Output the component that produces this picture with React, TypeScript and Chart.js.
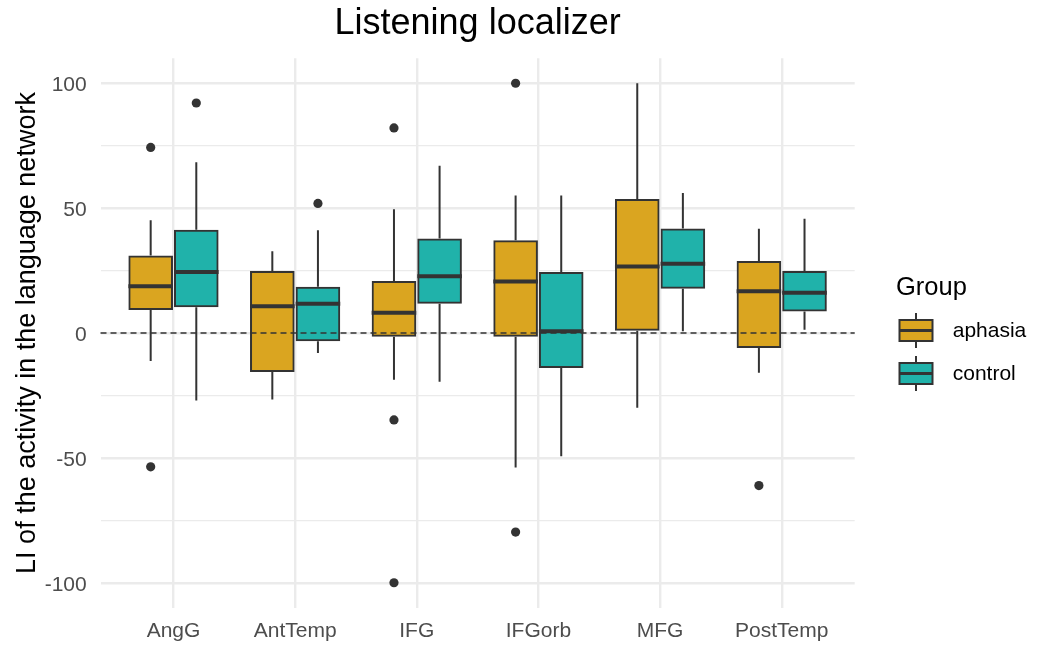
import React, { useEffect, useRef } from 'react';
import { Chart, registerables } from 'chart.js';

Chart.register(...registerables);

// Regions on the x axis
const regions = ['AngG', 'AntTemp', 'IFG', 'IFGorb', 'MFG', 'PostTemp'];
const groupNames = ['aphasia', 'control'];
const groupColors = ['#DAA520', '#20B2AA'];

// Per region: [lower whisker, Q1, median, Q3, upper whisker]
const aphasiaStats = [
  [-11.2, 9.6, 18.7, 30.6, 45.1],
  [-26.6, -15.2, 10.7, 24.4, 32.7],
  [-18.7, -1.1, 8.1, 20.4, 49.6],
  [-53.9, -1.1, 20.6, 36.7, 55.1],
  [-29.9, 1.3, 26.6, 53.3, 100],
  [-15.9, -5.6, 16.7, 28.4, 41.7],
];
const controlStats = [
  [-27.0, 10.7, 24.4, 40.9, 68.4],
  [-8.0, -2.9, 11.7, 18.1, 41.1],
  [-19.5, 12.1, 22.7, 37.4, 67.0],
  [-49.4, -13.6, 0.7, 24.0, 55.1],
  [0.7, 18.1, 27.7, 41.4, 56.1],
  [1.3, 9.0, 16.1, 24.4, 45.7],
];

// Points beyond the whiskers, per region
const aphasiaOutliers = [[74.3, -53.6], [], [82.1, -34.8, -100], [100, -79.7], [], [-61.1]];
const controlOutliers = [[92.1], [51.9], [], [], [], []];

const yTicks = [-100, -75, -50, -25, 0, 25, 50, 75, 100];
const yLabelTicks = [-100, -50, 0, 50, 100];

const DODGE = 0.1875;
const BOX_WIDTH = 0.35;
const BOX_PX = 42.6;
const INK = '#333333';
const GRID = '#EBEBEB';
const FONT = "'Liberation Sans', Arial, sans-serif";

const groups = [
  { name: groupNames[0], color: groupColors[0], stats: aphasiaStats, outliers: aphasiaOutliers, offset: -DODGE },
  { name: groupNames[1], color: groupColors[1], stats: controlStats, outliers: controlOutliers, offset: DODGE },
];

// Whiskers, medians and the dashed zero reference line
const boxDetails = {
  id: 'boxDetails',
  afterDatasetsDraw(chart: any) {
    const { ctx, chartArea } = chart;
    const x = chart.scales.x;
    const y = chart.scales.y;
    ctx.save();
    ctx.strokeStyle = INK;
    ctx.lineCap = 'butt';
    groups.forEach((g) => {
      g.stats.forEach((s, i) => {
        const c = i + 1 + g.offset;
        const cx = x.getPixelForValue(c);
        const left = x.getPixelForValue(c - BOX_WIDTH / 2);
        const right = x.getPixelForValue(c + BOX_WIDTH / 2);
        ctx.lineWidth = 2;
        ctx.beginPath();
        ctx.moveTo(cx, y.getPixelForValue(s[3]) - 1);
        ctx.lineTo(cx, y.getPixelForValue(s[4]));
        ctx.moveTo(cx, y.getPixelForValue(s[1]) + 1);
        ctx.lineTo(cx, y.getPixelForValue(s[0]));
        ctx.stroke();
        const ym = y.getPixelForValue(s[2]);
        ctx.lineWidth = 4;
        ctx.beginPath();
        ctx.moveTo(left - 1, ym);
        ctx.lineTo(right + 1, ym);
        ctx.stroke();
      });
    });
    const y0 = y.getPixelForValue(0);
    ctx.lineWidth = 1.3;
    ctx.setLineDash([6, 4]);
    ctx.beginPath();
    ctx.moveTo(chartArea.left, y0);
    ctx.lineTo(chartArea.right, y0);
    ctx.stroke();
    ctx.restore();
  },
};

// Group legend on the right
const groupLegend = {
  id: 'groupLegend',
  afterDraw(chart: any) {
    const { ctx } = chart;
    ctx.save();
    ctx.fillStyle = '#000';
    ctx.font = `25.5px ${FONT}`;
    ctx.textAlign = 'left';
    ctx.textBaseline = 'alphabetic';
    ctx.fillText('Group', 896, 295);
    groups.forEach((g, k) => {
      const keyL = 899.5;
      const keyW = 33;
      const boxH = 21;
      const top = 320 + k * 43;
      const cx = keyL + keyW / 2;
      ctx.strokeStyle = INK;
      ctx.lineWidth = 2;
      ctx.beginPath();
      ctx.moveTo(cx, top - 7);
      ctx.lineTo(cx, top);
      ctx.moveTo(cx, top + boxH);
      ctx.lineTo(cx, top + boxH + 7);
      ctx.stroke();
      ctx.fillStyle = g.color;
      ctx.fillRect(keyL, top, keyW, boxH);
      ctx.strokeRect(keyL, top, keyW, boxH);
      ctx.lineWidth = 3;
      ctx.beginPath();
      ctx.moveTo(keyL, top + boxH / 2);
      ctx.lineTo(keyL + keyW, top + boxH / 2);
      ctx.stroke();
      ctx.fillStyle = '#000';
      ctx.font = `21px ${FONT}`;
      ctx.textBaseline = 'middle';
      ctx.fillText(g.name, 952.7, top + boxH / 2 + 1);
    });
    ctx.restore();
  },
};

export default function App() {
  const canvasRef = useRef<HTMLCanvasElement | null>(null);

  useEffect(() => {
    document.body.style.margin = '0';
    document.body.style.overflow = 'hidden';
    const canvas = canvasRef.current;
    if (!canvas) return;

    // Boxes are floating bars spanning Q1..Q3
    const boxDatasets = groups.map((g) => ({
      type: 'bar' as const,
      label: g.name,
      data: g.stats.map((s, i) => ({ x: i + 1 + g.offset, y: [s[1], s[3]] })),
      backgroundColor: g.color,
      borderColor: INK,
      borderWidth: 2,
      borderSkipped: false,
      inflateAmount: 1,
      grouped: false,
      barThickness: BOX_PX,
    }));

    const outlierDatasets = groups.map((g) => ({
      type: 'scatter' as const,
      label: `${g.name} outliers`,
      data: g.outliers.flatMap((vals, i) => vals.map((v) => ({ x: i + 1 + g.offset, y: v }))),
      pointRadius: 4.6,
      pointHoverRadius: 4.6,
      pointBackgroundColor: INK,
      pointBorderWidth: 0,
    }));

    const chart = new Chart(canvas, {
      type: 'bar',
      data: { datasets: [...boxDatasets, ...outlierDatasets] as any },
      options: {
        responsive: false,
        animation: false,
        devicePixelRatio: 1,
        layout: { padding: { left: 0, right: 182.3, top: 0, bottom: 0 } },
        plugins: {
          legend: { display: false },
          tooltip: { enabled: false },
          title: {
            display: true,
            text: 'Listening localizer',
            fullSize: false,
            color: '#000',
            font: { family: FONT, size: 36, weight: 'normal' },
            padding: { top: 2.6, bottom: 12.5 },
          },
        },
        scales: {
          x: {
            type: 'linear',
            min: 0.4,
            max: 6.6,
            offset: false,
            afterBuildTicks: (s: any) => {
              s.ticks = regions.map((_, i) => ({ value: i + 1 }));
            },
            afterFit: (s: any) => {
              s.height = 38.3;
            },
            grid: { color: GRID, lineWidth: 2.4, drawTicks: false, offset: false },
            border: { display: false },
            ticks: {
              callback: (v: any) => regions[Number(v) - 1] ?? '',
              color: '#4D4D4D',
              font: { family: FONT, size: 21 },
              padding: 10.5,
              autoSkip: false,
              maxRotation: 0,
            },
          },
          y: {
            type: 'linear',
            min: -110,
            max: 110,
            afterBuildTicks: (s: any) => {
              s.ticks = yTicks.map((v) => ({ value: v }));
            },
            afterFit: (s: any) => {
              s.width = 100.5;
            },
            grid: {
              color: GRID,
              lineWidth: (c: any) => (c.tick && c.tick.value % 50 === 0 ? 2.4 : 1.2),
              drawTicks: false,
            },
            border: { display: false },
            ticks: {
              callback: (v: any) => (yLabelTicks.includes(Number(v)) ? String(v) : ''),
              color: '#4D4D4D',
              font: { family: FONT, size: 21 },
              padding: 13.8,
              labelOffset: 2,
            },
            title: {
              display: true,
              text: 'LI of the activity in the language network',
              color: '#000',
              font: { family: FONT, size: 27 },
              padding: { top: 11, bottom: 0 },
            },
          },
        },
      } as any,
      plugins: [boxDetails, groupLegend],
    });

    return () => chart.destroy();
  }, []);

  return (
    <div style={{ width: 1037, height: 646 }}>
      <canvas ref={canvasRef} width={1037} height={646} />
    </div>
  );
}
